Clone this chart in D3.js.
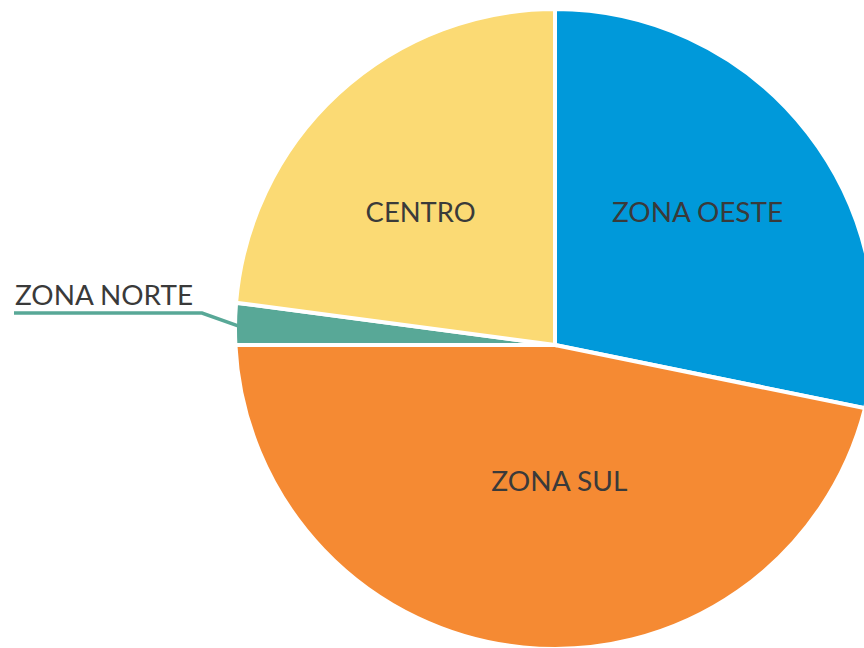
<!DOCTYPE html>
<html>
<head>
<meta charset="utf-8">
<script src="https://cdn.jsdelivr.net/npm/d3@7"></script>
<style>
  body { margin: 0; background: #fff; }
  svg { display: block; }
</style>
</head>
<body>
<div id="chart"></div>
<script>
// data (share of total, %)
const regions = ['ZONA OESTE', 'ZONA SUL', 'ZONA NORTE', 'CENTRO'];
const shares  = [28.2, 46.8, 2.1, 22.9];
const colors  = ['#0099da', '#f58a33', '#58a897', '#fbda74'];

const width = 864, height = 648;

// the wedges meet at the apex, the rim is a circle centred a bit higher
const apex = {x: 555, y: 345};
const rim = {x: 555, y: 329, r: 320};

const svg = d3.select('#chart').append('svg')
  .attr('width', width)
  .attr('height', height);

svg.append('rect')
  .attr('width', width).attr('height', height)
  .attr('fill', '#fff');

const pie = d3.pie().sort(null).value(d => d.value);
const arcs = pie(regions.map((r, i) => ({name: r, value: shares[i], color: colors[i]})));

// where a ray from the apex at pie angle a meets the rim
function rimPoint(a) {
  const ux = Math.sin(a), uy = -Math.cos(a);
  const dx = apex.x - rim.x, dy = apex.y - rim.y;
  const b = ux * dx + uy * dy;
  const c = dx * dx + dy * dy - rim.r * rim.r;
  const t = -b + Math.sqrt(b * b - c);
  return {x: apex.x + t * ux, y: apex.y + t * uy};
}

function wedge(d) {
  const p0 = rimPoint(d.startAngle), p1 = rimPoint(d.endAngle);
  const t0 = Math.atan2(p0.y - rim.y, p0.x - rim.x);
  let t1 = Math.atan2(p1.y - rim.y, p1.x - rim.x);
  if (t1 <= t0) t1 += 2 * Math.PI;
  const p = d3.path();
  p.moveTo(apex.x, apex.y);
  p.lineTo(p0.x, p0.y);
  p.arc(rim.x, rim.y, rim.r, t0, t1, false);
  p.closePath();
  return p.toString();
}

svg.append('g').attr('class', 'slices')
  .selectAll('path')
  .data(arcs)
  .enter()
  .append('path')
  .attr('d', wedge)
  .attr('fill', d => d.data.color)
  .attr('stroke', '#fff')
  .attr('stroke-width', 4)
  .attr('stroke-linejoin', 'miter');

// labels inside the big slices (radius / angle nudge / text width)
const labelSpec = {
  'CENTRO':     {r: 189, da: -4.1, w: 110},
  'ZONA OESTE': {r: 195, da: -3.8, w: 171},
  'ZONA SUL':   {r: 136, da: -7.6, w: 136}
};

const font = 'Lato, "Noto Sans", sans-serif';

svg.append('g').attr('class', 'labels')
  .selectAll('text')
  .data(arcs.filter(d => labelSpec[d.data.name]))
  .enter()
  .append('text')
  .attr('x', d => {
    const s = labelSpec[d.data.name];
    const a = (d.startAngle + d.endAngle) / 2 + s.da * Math.PI / 180;
    return apex.x + s.r * Math.sin(a);
  })
  .attr('y', d => {
    const s = labelSpec[d.data.name];
    const a = (d.startAngle + d.endAngle) / 2 + s.da * Math.PI / 180;
    return apex.y - s.r * Math.cos(a);
  })
  .attr('dy', '0.36em')
  .attr('text-anchor', 'middle')
  .attr('textLength', d => labelSpec[d.data.name].w)
  .attr('lengthAdjust', 'spacingAndGlyphs')
  .style('font-family', font)
  .style('font-size', '27px')
  .style('fill', '#3a3a3a')
  .text(d => d.data.name);

// small slice gets an outside label with a leader line
const norte = arcs.find(d => d.data.name === 'ZONA NORTE');
const tip = rimPoint((norte.startAngle + norte.endAngle) / 2);
const elbow = {x: 202, y: 313};

svg.append('path')
  .attr('d', d3.line()([[14, elbow.y], [elbow.x, elbow.y], [tip.x + 3, tip.y + 2]]))
  .attr('fill', 'none')
  .attr('stroke', norte.data.color)
  .attr('stroke-width', 3.5);

svg.append('text')
  .attr('x', 15)
  .attr('y', 305)
  .attr('textLength', 178)
  .attr('lengthAdjust', 'spacingAndGlyphs')
  .style('font-family', font)
  .style('font-size', '27px')
  .style('fill', '#3a3a3a')
  .text(norte.data.name);
</script>
</body>
</html>
